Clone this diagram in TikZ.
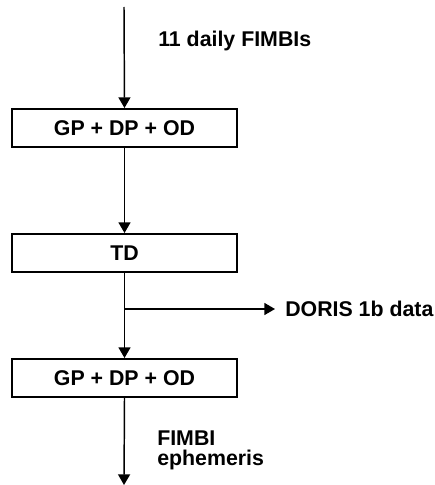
\documentclass[tikz,border=0pt]{standalone}
\usepackage{fontspec}
\setmainfont{Liberation Sans}
\usetikzlibrary{arrows.meta}
\begin{document}
\begin{tikzpicture}[x=0.75pt,y=-0.75pt,
  box/.style={draw, line width=1.5pt, minimum width=168.75pt, minimum height=28.5pt, inner sep=0pt, font=\fontsize{16}{18}\selectfont\bfseries},
  lbl/.style={anchor=west, inner sep=0pt, font=\fontsize{16}{14.5}\selectfont\bfseries, align=left},
  arr/.style={line width=1.1pt, -{Triangle[width=9pt,length=8pt]}},
  ln/.style={line width=1.1pt}]
\useasboundingbox (0,0) rectangle (435,485);
\coordinate (top) at (124,7);
\node[box] (b1) at (124.5,128) {GP + DP + OD};
\node[box] (b2) at (124.5,253) {TD};
\node[box] (b3) at (124.5,378) {GP + DP + OD};
\coordinate (br) at (124,309);
\coordinate (bot) at (124,485);
\node[lbl] (l1) at (158,41) {11 daily FIMBIs};
\node[lbl] (l2) at (285,309) {DORIS 1b data};
\node[lbl] (l3) at (157,450.5) {FIMBI\\ephemeris};
\draw[arr] (top) -- (b1.north);
\draw[arr] (b1.south) -- (b2.north);
\draw[arr] (b2.south) -- (b3.north);
\draw[arr, shorten >=7.5pt] (br) -- (l2.west);
\draw[arr] (b3.south) -- (bot);
\end{tikzpicture}
\end{document}
